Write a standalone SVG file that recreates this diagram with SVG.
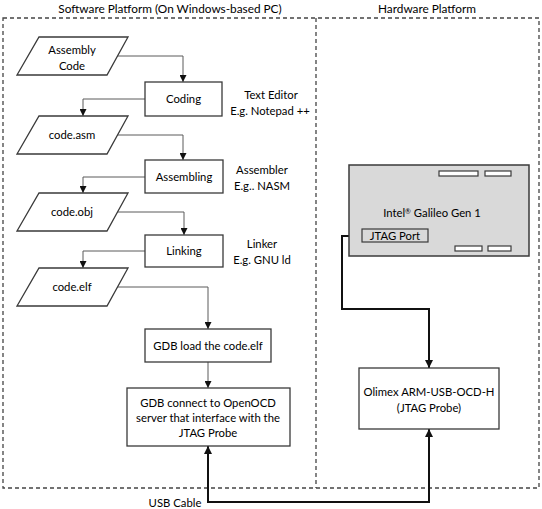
<svg xmlns="http://www.w3.org/2000/svg" width="542" height="509" viewBox="0 0 542 509">
<style>
text{font-family:Lato,"Liberation Sans",sans-serif;font-size:11.3px;fill:#000;text-anchor:middle}
.box{fill:#fff;stroke:#3a3a3a;stroke-width:1.3}
.dash{fill:none;stroke:#444;stroke-width:1.3;stroke-dasharray:4 3}
.thin{fill:none;stroke:#5a5a5a;stroke-width:1}
.thick{fill:none;stroke:#111;stroke-width:2}
.board{fill:#d9d9d9;stroke:#3a3a3a;stroke-width:1.5}
.slot{fill:#fff;stroke:#3a3a3a;stroke-width:1.2}
.sup{font-size:7px}
</style>
<defs>
<marker id="a" viewBox="0 0 10 10" refX="10" refY="5" markerWidth="7" markerHeight="7" markerUnits="userSpaceOnUse" orient="auto-start-reverse"><path d="M0,0L10,5L0,10z" fill="#111"/></marker>
<marker id="b" viewBox="0 0 10 10" refX="10" refY="5" markerWidth="8" markerHeight="8" markerUnits="userSpaceOnUse" orient="auto-start-reverse"><path d="M0,0L10,5L0,10z" fill="#111"/></marker>
</defs>
<g id="frames">
<rect class="dash" x="3" y="18" width="536" height="470"/>
<line class="dash" x1="316" y1="18" x2="316" y2="488"/>
<text x="170" y="12.5" style="font-size:11.8px">Software Platform (On Windows-based PC)</text>
<text x="427" y="12.5" style="font-size:11.8px">Hardware Platform</text>
</g>
<g id="connectors">
<path class="thin" d="M117,56H183V82" marker-end="url(#a)"/>
<path class="thin" d="M145,99H83V116" marker-end="url(#a)"/>
<path class="thin" d="M117,135H183V160" marker-end="url(#a)"/>
<path class="thin" d="M145,177H83V193" marker-end="url(#a)"/>
<path class="thin" d="M117,212H184V235" marker-end="url(#a)"/>
<path class="thin" d="M145,251H83V268" marker-end="url(#a)"/>
<path class="thin" d="M117,287H208V329" marker-end="url(#a)"/>
<path class="thin" d="M208,362V388" marker-end="url(#a)"/>
<path class="thick" d="M362,236H342V309H429V368" marker-start="url(#b)" marker-end="url(#b)"/>
<path class="thick" d="M208,446V502H429V429" marker-start="url(#b)" marker-end="url(#b)"/>
</g>
<g id="assembly-code">
<path class="box" d="M39,37H128L107,75H17z"/>
<text x="72" y="54">Assembly</text>
<text x="72" y="70">Code</text>
</g>
<g id="coding">
<rect class="box" x="145" y="82" width="77" height="34"/>
<text x="183.5" y="103">Coding</text>
</g>
<g id="coding-note">
<text x="271" y="98.5">Text Editor</text>
<text x="270" y="114.5">E.g. Notepad ++</text>
</g>
<g id="code-asm">
<path class="box" d="M39,116H128L107,154H17z"/>
<text x="72" y="139">code.asm</text>
</g>
<g id="assembling">
<rect class="box" x="145" y="160" width="78" height="33"/>
<text x="184" y="181">Assembling</text>
</g>
<g id="assembling-note">
<text x="262" y="173.5">Assembler</text>
<text x="262" y="189.5">E.g.. NASM</text>
</g>
<g id="code-obj">
<path class="box" d="M39,193H128L107,231H17z"/>
<text x="72" y="216">code.obj</text>
</g>
<g id="linking">
<rect class="box" x="145" y="235" width="78" height="32"/>
<text x="184" y="255">Linking</text>
</g>
<g id="linking-note">
<text x="262" y="247.5">Linker</text>
<text x="262" y="263.5">E.g. GNU ld</text>
</g>
<g id="code-elf">
<path class="box" d="M39,268H128L107,306H17z"/>
<text x="72" y="291">code.elf</text>
</g>
<g id="gdb-load">
<rect class="box" x="145" y="329" width="126" height="33"/>
<text x="208" y="350">GDB load the code.elf</text>
</g>
<g id="gdb-connect">
<rect class="box" x="127" y="388" width="163" height="58"/>
<text x="208" y="407">GDB connect to OpenOCD</text>
<text x="208" y="422">server that interface with the</text>
<text x="208" y="437">JTAG Probe</text>
</g>
<g id="galileo">
<rect class="board" x="349" y="165" width="180" height="91"/>
<rect class="slot" x="439" y="171" width="39" height="5"/>
<rect class="slot" x="485" y="171" width="26" height="5"/>
<rect class="slot" x="455" y="246" width="27" height="5"/>
<rect class="slot" x="488" y="246" width="23" height="5"/>
<text x="432" y="217">Intel<tspan class="sup" dy="-3.5">®</tspan><tspan dy="3.5"> Galileo Gen 1</tspan></text>
</g>
<g id="jtag-port">
<rect class="board" x="362" y="229" width="66" height="13" style="stroke-width:1.2"/>
<text x="395" y="240">JTAG Port</text>
</g>
<g id="olimex">
<rect class="box" x="359" y="368" width="140" height="61"/>
<text x="429" y="396">Olimex ARM-USB-OCD-H</text>
<text x="429" y="412">(JTAG Probe)</text>
</g>
<g id="usb-label">
<text x="175" y="507">USB Cable</text>
</g>
</svg>
